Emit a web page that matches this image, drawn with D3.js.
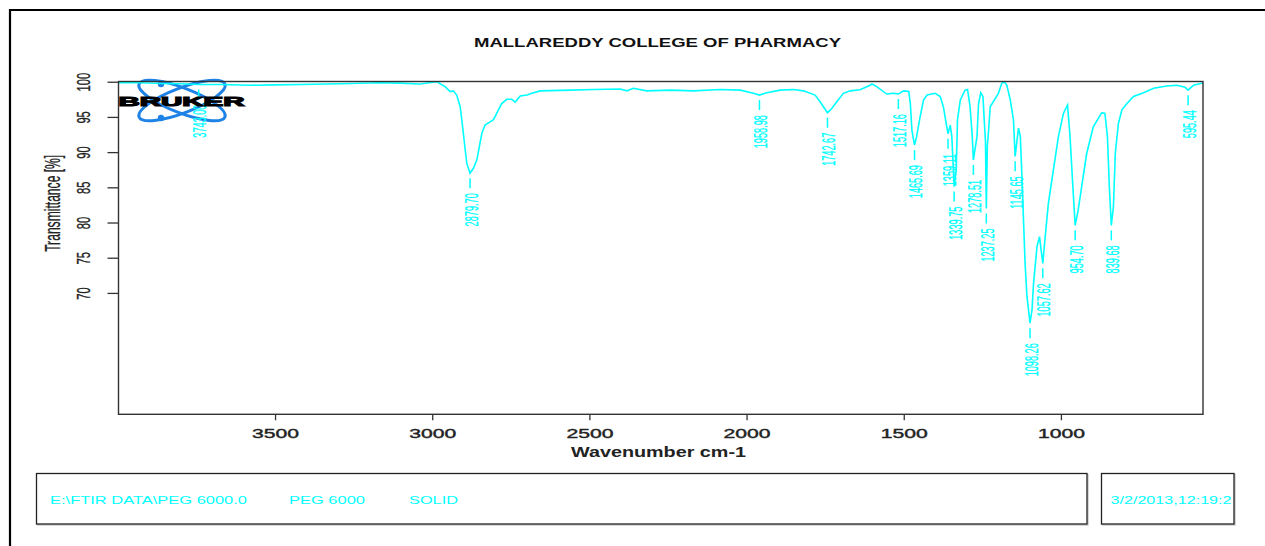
<!DOCTYPE html>
<html>
<head>
<meta charset="utf-8">
<script src="https://cdn.jsdelivr.net/npm/d3@7"></script>
<style>
  html, body { margin: 0; padding: 0; background: #fff; }
  svg { display: block; }
  text { font-family: "Liberation Sans", Arial, Helvetica, sans-serif; }
</style>
</head>
<body>
<svg id="chart" width="1265" height="546"></svg>
<script>
// FTIR spectrum of PEG 6000 (solid): wavenumber (cm-1) and transmittance (%)
const wavenumbers = [
  3998, 3929, 3860, 3802, 3743.00, 3675, 3579, 3500, 3420, 3293, 3166, 3102, 3039, 2985,
  2959, 2943, 2933, 2922, 2911, 2906, 2901, 2895, 2890, 2879.70, 2869, 2858, 2850, 2842,
  2832, 2816, 2805, 2795, 2779, 2763, 2747, 2736, 2720, 2699, 2683, 2657, 2561, 2487,
  2402, 2381, 2360, 2317, 2243, 2169, 2084, 2020, 1978, 1958.98, 1936, 1893, 1851, 1819,
  1782, 1766, 1742.67, 1729, 1713, 1692, 1670, 1639, 1607, 1601, 1586, 1554, 1533, 1517.16,
  1500, 1484, 1479, 1474, 1465.69, 1459, 1448, 1437, 1426, 1400, 1384, 1374, 1365, 1359.11,
  1352, 1347, 1339.75, 1333, 1329, 1320, 1305, 1297, 1289, 1282, 1278.51, 1267, 1262, 1255,
  1248, 1244, 1240, 1237.25, 1234, 1230, 1225, 1215, 1199, 1188, 1180, 1172, 1161, 1151,
  1145.65, 1135, 1129, 1124, 1119, 1114, 1108, 1098.26, 1092, 1087, 1076, 1068, 1063,
  1057.62, 1052, 1040, 1024, 1008, 992, 979, 971, 962, 954.70, 945, 934, 918, 897, 870,
  860, 852, 846, 839.68, 833, 827, 817, 806, 790, 769, 737, 705, 663, 631, 605, 595.44,
  578, 552, 548
];
const transmittance = [
  99.85, 99.85, 99.75, 99.7, 99.6, 99.6, 99.5, 99.55, 99.6, 99.7, 99.85, 99.8, 99.67, 100.0,
  99.3, 98.6, 98.7, 98.1, 96.45, 94.6, 92.7, 90.3, 88.4, 87.0, 87.7, 88.9, 90.8, 92.7,
  93.85, 94.3, 94.6, 95.5, 96.9, 97.5, 97.5, 97.1, 97.97, 98.1, 98.35, 98.7, 98.8, 98.9,
  98.96, 98.7, 99.06, 98.7, 98.8, 98.7, 98.9, 98.8, 98.35, 98.1, 98.44, 98.8, 98.9, 98.7,
  98.1, 97.16, 95.6, 96.2, 97.16, 98.35, 98.7, 98.85, 99.5, 99.67, 99.3, 98.25, 98.35, 98.25,
  98.7, 98.6, 96.9, 93.1, 91.0, 92.2, 95.0, 97.4, 98.1, 98.35, 97.9, 96.45, 94.1, 92.6,
  93.85, 92.2, 85.1, 87.5, 94.6, 97.4, 98.8, 98.9, 96.45, 92.2, 88.9, 92.2, 96.9, 98.44,
  97.9, 94.6, 91.5, 82.0, 91.0, 93.1, 96.45, 97.16, 98.35, 99.77, 100.0, 99.5, 97.4, 94.6,
  89.4, 93.4, 92.2, 86.5, 80.35, 74.2, 69.5, 65.7, 67.6, 71.4, 76.6, 78.0, 76.1,
  74.2, 77.0, 82.7, 87.45, 92.2, 95.5, 96.7, 92.2, 85.1, 79.6, 81.8, 85.1, 89.8, 93.6, 95.6,
  95.5, 92.2, 85.1, 79.6, 82.2, 89.8, 94.1, 96.0, 96.9, 97.9, 98.44, 99.06, 99.39, 99.5, 99.2, 98.8,
  99.5, 99.77, 99.8
];

// Picked peaks (wavenumbers as printed)
const peakLabels = [
  "3743.00", "2879.70", "1958.98", "1742.67", "1517.16", "1465.69", "1359.11", "1339.75",
  "1278.51", "1237.25", "1145.65", "1098.26", "1057.62", "954.70", "839.68", "595.44"
];

const xTicks = [3500, 3000, 2500, 2000, 1500, 1000];
const yTicks = [70, 75, 80, 85, 90, 95, 100];

const titleText = "MALLAREDDY COLLEGE OF PHARMACY";
const xTitle = "Wavenumber cm-1";
const yTitle = "Transmittance [%]";
const infoTexts = ["E:\\FTIR DATA\\PEG 6000.0", "PEG 6000", "SOLID"];
const dateText = "3/2/2013,12:19:2";

const CYAN = "#00ffff";
const svg = d3.select("#chart");

const plot = { left: 118.5, right: 1203, top: 81.5, bottom: 414.3 };
const x = d3.scaleLinear().domain([3998, 548]).range([plot.left, plot.right]);
const y = d3.scaleLinear().domain([52.76, 100.03]).range([plot.bottom, plot.top]);

const spectrum = wavenumbers.map((w, i) => ({ w, t: transmittance[i] }));

// Outer page frame (top and left edges)
svg.append("path")
  .attr("d", "M10,546 L10,10 L1265,10")
  .attr("fill", "none").attr("stroke", "#000").attr("stroke-width", 2.2);

// Title
svg.append("text")
  .attr("x", 474).attr("y", 47.3)
  .attr("font-size", 12.5).attr("font-weight", "bold").attr("fill", "#111")
  .attr("textLength", 367).attr("lengthAdjust", "spacingAndGlyphs")
  .text(titleText);

// Logo (drawn under the spectrum)
const logo = svg.append("g").attr("transform", "translate(182,100.5)");
[-21, 21].forEach(a => {
  logo.append("ellipse")
    .attr("rx", 46).attr("ry", 12.5)
    .attr("transform", `rotate(${a})`)
    .attr("fill", "none").attr("stroke", "#1e82e6").attr("stroke-width", 3);
});
[[-21, -16.5], [-21, 17.5]].forEach(([dx, dy]) => {
  logo.append("circle").attr("cx", dx).attr("cy", dy).attr("r", 3.2).attr("fill", "#1e82e6");
});

// Clip path for the spectrum
svg.append("clipPath").attr("id", "plotClip")
  .append("rect")
  .attr("x", plot.left).attr("y", plot.top - 1)
  .attr("width", plot.right - plot.left).attr("height", plot.bottom - plot.top + 1);

// Spectrum line
const line = d3.line().x(d => x(d.w)).y(d => y(d.t));
svg.append("path")
  .datum(spectrum)
  .attr("clip-path", "url(#plotClip)")
  .attr("d", line)
  .attr("fill", "none").attr("stroke", CYAN).attr("stroke-width", 1.6)
  .attr("stroke-linejoin", "miter");

// Peak markers: short dash under each minimum, then the rotated wavenumber
const peaks = svg.append("g");
peakLabels.forEach(lbl => {
  const w = +lbl;
  const pt = spectrum.find(d => Math.abs(d.w - w) < 1e-6);
  const px = x(w), py = y(pt.t);
  peaks.append("line")
    .attr("x1", px).attr("x2", px).attr("y1", py + 5).attr("y2", py + 15)
    .attr("stroke", CYAN).attr("stroke-width", 1.5);
  peaks.append("text")
    .attr("transform", `translate(${px + 7.5},${py + 20}) rotate(-90) scale(0.51,1)`)
    .attr("text-anchor", "end")
    .attr("font-size", 18).attr("fill", CYAN)
    .attr("stroke", CYAN).attr("stroke-width", 0.3)
    .text(lbl);
});

// Logo lettering on top
svg.append("text")
  .attr("x", 118.5).attr("y", 106)
  .attr("font-size", 13).attr("font-weight", "bold").attr("fill", "#000")
  .attr("stroke", "#000").attr("stroke-width", 1.1)
  .attr("textLength", 126).attr("lengthAdjust", "spacingAndGlyphs")
  .text("BRUKER");

// Plot frame
svg.append("rect")
  .attr("x", plot.left).attr("y", plot.top)
  .attr("width", plot.right - plot.left).attr("height", plot.bottom - plot.top)
  .attr("fill", "none").attr("stroke", "#333").attr("stroke-width", 1.4);

// Y axis
const yAxis = svg.append("g")
  .attr("transform", `translate(${plot.left},0)`)
  .call(d3.axisLeft(y).tickValues(yTicks).tickSize(11).tickFormat(d3.format("d")));
yAxis.select(".domain").remove();
yAxis.selectAll(".tick line").attr("stroke", "#333").attr("stroke-width", 1.3);
yAxis.selectAll(".tick text")
  .attr("x", null).attr("dy", null)
  .attr("transform", "translate(-28.5,0) rotate(-90) scale(0.62,1)")
  .attr("text-anchor", "middle")
  .attr("font-size", 18).attr("fill", "#222")
  .attr("stroke", "#222").attr("stroke-width", 0.35)
  .style("font-family", "'Liberation Sans', Arial, sans-serif");

// X axis
const xAxis = svg.append("g")
  .attr("transform", `translate(0,${plot.bottom})`)
  .call(d3.axisBottom(x).tickValues(xTicks).tickSize(6).tickFormat(d3.format("d")));
xAxis.select(".domain").remove();
xAxis.selectAll(".tick line").attr("stroke", "#333").attr("stroke-width", 1.3);
xAxis.selectAll(".tick text")
  .attr("y", 24.2).attr("dy", null)
  .attr("font-size", 13).attr("fill", "#222")
  .attr("stroke", "#222").attr("stroke-width", 0.4)
  .attr("textLength", 47).attr("lengthAdjust", "spacingAndGlyphs")
  .style("font-family", "'Liberation Sans', Arial, sans-serif");

// Axis titles
svg.append("text")
  .attr("x", 571).attr("y", 457)
  .attr("font-size", 14).attr("font-weight", "bold").attr("fill", "#222")
  .attr("textLength", 175).attr("lengthAdjust", "spacingAndGlyphs")
  .text(xTitle);

svg.append("text")
  .attr("transform", "translate(60,203.3) rotate(-90) scale(0.55,1)")
  .attr("text-anchor", "middle")
  .attr("font-size", 22).attr("fill", "#222")
  .attr("stroke", "#222").attr("stroke-width", 0.3)
  .text(yTitle);

// Info boxes at the bottom
function box(x0, y0, w, h) {
  svg.append("rect").attr("x", x0 + 1).attr("y", y0 + 1).attr("width", w).attr("height", h)
    .attr("fill", "none").attr("stroke", "#bbb").attr("stroke-width", 1.2);
  svg.append("rect").attr("x", x0).attr("y", y0).attr("width", w).attr("height", h)
    .attr("fill", "#fff").attr("stroke", "#222").attr("stroke-width", 1.3);
}
box(36.5, 473.5, 1050.5, 50.5);
box(1101.5, 473.5, 132.5, 50.5);

const infoPos = [[50, 197], [289, 76], [409, 49]];
infoTexts.forEach((t, i) => {
  svg.append("text")
    .attr("x", infoPos[i][0]).attr("y", 504)
    .attr("font-size", 11).attr("fill", CYAN)
    .attr("textLength", infoPos[i][1]).attr("lengthAdjust", "spacingAndGlyphs")
    .text(t);
});
svg.append("text")
  .attr("x", 1110.5).attr("y", 504)
  .attr("font-size", 11).attr("fill", CYAN)
  .attr("textLength", 121).attr("lengthAdjust", "spacingAndGlyphs")
  .text(dateText);
</script>
</body>
</html>
